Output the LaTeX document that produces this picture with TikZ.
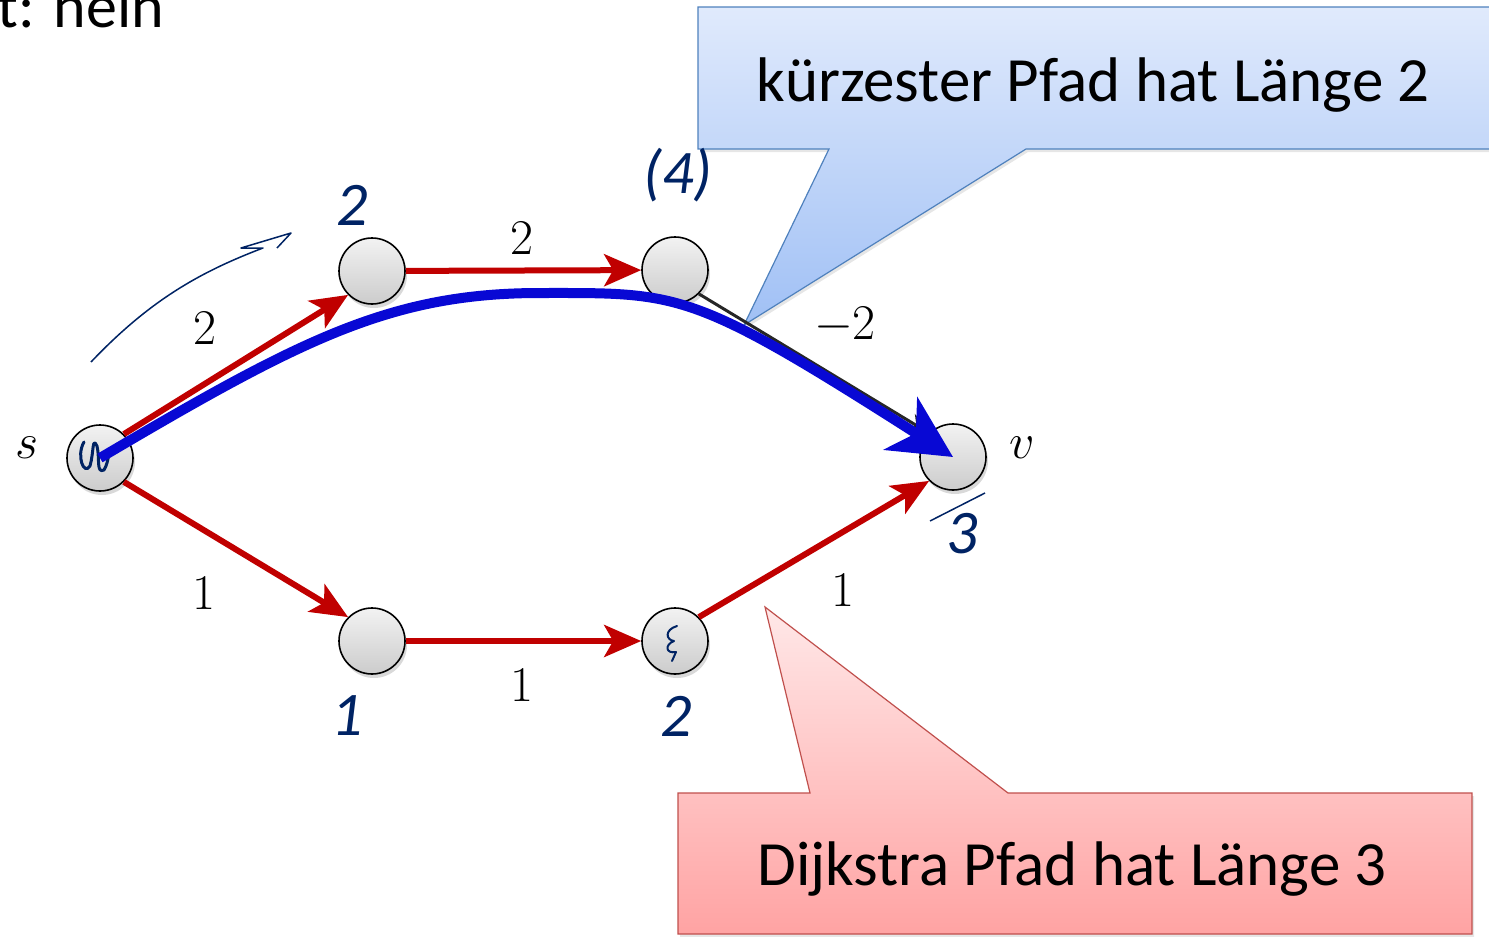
\documentclass[tikz,border=0pt]{standalone}
\usepackage{fix-cm}
\usepackage{amsmath,amssymb}
\usepackage{fontspec}
\setmainfont{Carlito}
\usepackage{tikz}
\usetikzlibrary{arrows.meta,shadows}
\definecolor{edgered}{RGB}{192,0,0}
\definecolor{pathblue}{RGB}{8,8,212}
\definecolor{inkblue}{RGB}{0,35,100}
\definecolor{callblue}{RGB}{79,129,189}
\definecolor{callred}{RGB}{192,80,77}
\tikzset{
  vtx/.style={circle,draw=black,line width=1.6pt,minimum size=66pt,inner sep=0pt,
    top color=gray!10,bottom color=gray!40,
    drop shadow={opacity=0.3,shadow xshift=2pt,shadow yshift=-4pt}},
  redge/.style={edgered,line width=6pt,-{Stealth[length=37pt,width=32pt,inset=9pt]}},
  wlbl/.style={font=\fontsize{50}{60}\selectfont},
  hand/.style={inkblue,font=\fontsize{62}{70}\selectfont\itshape},
  calltext/.style={font=\fontsize{63}{70}\selectfont,anchor=base},
}

\begin{document}
\begin{tikzpicture}[x=1pt,y=-1pt]
  \useasboundingbox (0,0) rectangle (1489,937);
  \clip (0,0) rectangle (1489,937);

  \node[font=\fontsize{62}{70}\selectfont,anchor=base west] (answer) at (-6,27) {t: nein};

  % callouts
  \shade[top color={rgb,255:red,224;green,234;blue,252},bottom color={rgb,255:red,160;green,192;blue,245},
    draw=callblue,line width=1.2pt,drop shadow={opacity=0.2,shadow xshift=2pt,shadow yshift=-3pt}]
    (698,7) -- (1500,7) -- (1500,149) -- (1026,149) -- (744,325) -- (829,149) -- (698,149) -- cycle;
  \node[calltext] (shortest) at (1093,101) {kürzester Pfad hat Länge 2};
  \shade[top color={rgb,255:red,255;green,232;blue,232},bottom color={rgb,255:red,255;green,163;blue,163},
    draw=callred,line width=1.2pt,drop shadow={opacity=0.2,shadow xshift=2pt,shadow yshift=-3pt}]
    (678,793) -- (810,793) -- (765,607) -- (1008,793) -- (1472,793) -- (1472,934) -- (678,934) -- cycle;
  \node[calltext] (dijkstra) at (1072,885) {Dijkstra Pfad hat Länge 3};

  % graph
  \node[vtx] (s) at (100,458) {};
  \node[vtx] (a) at (372,271) {};
  \node[vtx] (b) at (675,270) {};
  \node[vtx] (c) at (372,641) {};
  \node[vtx] (d) at (675,641) {};
  \node[vtx] (v) at (953,457) {};
  \node[wlbl] (sname) at (27,448) {$s$};
  \node[wlbl] (vname) at (1022,448) {$v$};

  \draw[redge] (s.north east) -- (a.south west);
  \draw[redge] (a) -- (b);
  \draw[redge] (s.south east) -- (c.north west);
  \draw[redge] (c) -- (d);
  \draw[redge] (d.north east) -- (v.south west);
  \draw[black!85,line width=3pt,-{Stealth[length=22pt,width=18pt]}] (b.south east) -- (v.north west);

  \node[wlbl] (wsa) at (205,328) {$2$};
  \node[wlbl] (wab) at (522,238) {$2$};
  \node[wlbl] (wbv) at (845,325) {$-2$};
  \node[wlbl] (wsc) at (204,593) {$1$};
  \node[wlbl] (wcd) at (522,685) {$1$};
  \node[wlbl] (wdv) at (843,590) {$1$};

  % handwritten notes
  \draw[inkblue,line width=1.5pt,line join=round]
    (91,362) .. controls (150,300) and (200,272) .. (263,248) -- (241,248) -- (291,233) -- (277,248);
  \draw[inkblue,line width=3pt,line cap=round,line join=round]
    (84,442) .. controls (76,456) and (84,476) .. (90,466) .. controls (94,452) and (92,436) .. (97,446)
    .. controls (100,458) and (96,474) .. (104,470) .. controls (110,460) and (108,446) .. (112,452);
  \draw[inkblue,line width=2pt,line cap=round,line join=round]
    (677,626) .. controls (664,630) and (666,640) .. (674,641) .. controls (664,645) and (666,654) .. (676,652) -- (672,661);
  \node[hand] (da) at (352,205) {2};
  \node[hand] (db) at (678,175) {(4)};
  \node[hand] (dc) at (347,716) {1};
  \node[hand] (dd) at (676,716) {2};
  \node[hand] (dv) at (962,534) {3};
  \draw[inkblue,line width=1.5pt] (930,521) -- (985,493);

  \draw[pathblue,line width=10pt,-{Stealth[length=62pt,width=62pt,inset=18pt]}]
    (s.center) .. controls (300,340) and (390,293) .. (540,293)
    .. controls (680,293) and (690,289) .. (v.center);
\end{tikzpicture}
\end{document}
